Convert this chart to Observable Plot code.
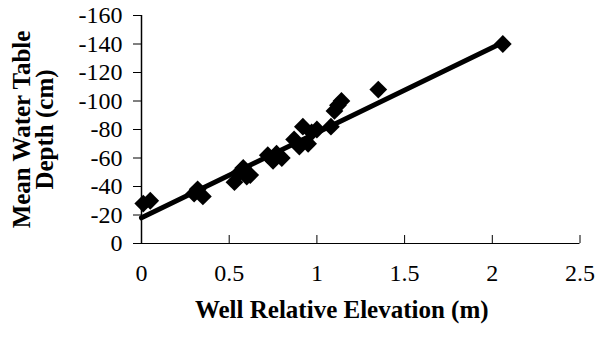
<!DOCTYPE html>
<html>
<head>
<meta charset="utf-8">
<script src="https://cdn.jsdelivr.net/npm/d3@7"></script>
<script src="https://cdn.jsdelivr.net/npm/@observablehq/plot@0.6"></script>
<style>
  html, body { margin: 0; padding: 0; background: #fff; }
  #chart svg { display: block; }
</style>
</head>
<body>
<div id="chart"></div>
<script>
// Well relative elevation (m) and mean water table depth (cm) per well
const elevation = [0.01, 0.05, 0.30, 0.32, 0.35, 0.53, 0.56, 0.58, 0.60, 0.62, 0.72, 0.75, 0.77, 0.80, 0.87, 0.90, 0.92, 0.95, 0.97, 1.00, 1.08, 1.10, 1.12, 1.14, 1.35, 2.06];
const depth     = [-28, -30, -35, -38, -33, -43, -50, -53, -47, -48, -62, -58, -63, -60, -73, -68, -82, -70, -78, -80, -82, -93, -97, -100, -108, -140];

// Linear trend line end points
const trendX = [0, 2.06];
const trendY = [-18, -141];

const xTicks = [0, 0.5, 1, 1.5, 2, 2.5];
const yTicks = [0, -20, -40, -60, -80, -100, -120, -140, -160];

const xTitle = "Well Relative Elevation (m)";
const yTitle = "Mean Water Table\nDepth (cm)";

const wells = elevation.map((e, i) => ({elevation: e, depth: depth[i]}));
const trend = trendX.map((x, i) => ({x, y: trendY[i]}));

const W = 598, H = 341;
const mTop = 15, mBottom = 98, mLeft = 141, mRight = 18.5;
const serif = "Liberation Serif, Times New Roman, DejaVu Serif, serif";

const chart = Plot.plot({
  width: W,
  height: H,
  marginTop: mTop,
  marginBottom: mBottom,
  marginLeft: mLeft,
  marginRight: mRight,
  style: {fontSize: "24px", color: "#000", background: "#fff"},
  x: {domain: [0, 2.5]},
  y: {domain: [0, -160]},
  marks: [
    // horizontal axis line and inward-pointing ticks
    Plot.ruleY([0], {stroke: "#000", strokeWidth: 1}),
    Plot.tickX(xTicks, {x: d => d, stroke: "#000", insetTop: (H - mTop - mBottom) - 8}),
    Plot.axisX(xTicks, {tickSize: 0, tickPadding: 20, fontSize: 24, fontFamily: serif, tickFormat: d => String(d), label: null}),
    // vertical axis with outward ticks
    Plot.axisY(yTicks, {tickSize: 8, tickPadding: 11, fontSize: 24, fontFamily: serif, tickFormat: d => String(d), label: null}),
    Plot.ruleX([0], {stroke: "#000", strokeWidth: 1.5}),
    // trend line
    Plot.line(trend, {x: "x", y: "y", stroke: "#000", strokeWidth: 5}),
    // wells
    Plot.dot(wells, {x: "elevation", y: "depth", symbol: "diamond2", r: 8, fill: "#000", stroke: "none"}),
    // axis titles
    Plot.text([xTitle], {frameAnchor: "bottom", text: d => d, dx: -19, dy: 66, fontFamily: serif, fontWeight: "bold", fontSize: 25, textAnchor: "middle", lineAnchor: "middle"}),
    Plot.text([yTitle], {frameAnchor: "left", text: d => d, dx: -107, rotate: -90, fontFamily: serif, fontWeight: "bold", fontSize: 25, lineHeight: 0.9, textAnchor: "middle", lineAnchor: "middle"})
  ]
});

document.getElementById("chart").appendChild(chart);
</script>
</body>
</html>
